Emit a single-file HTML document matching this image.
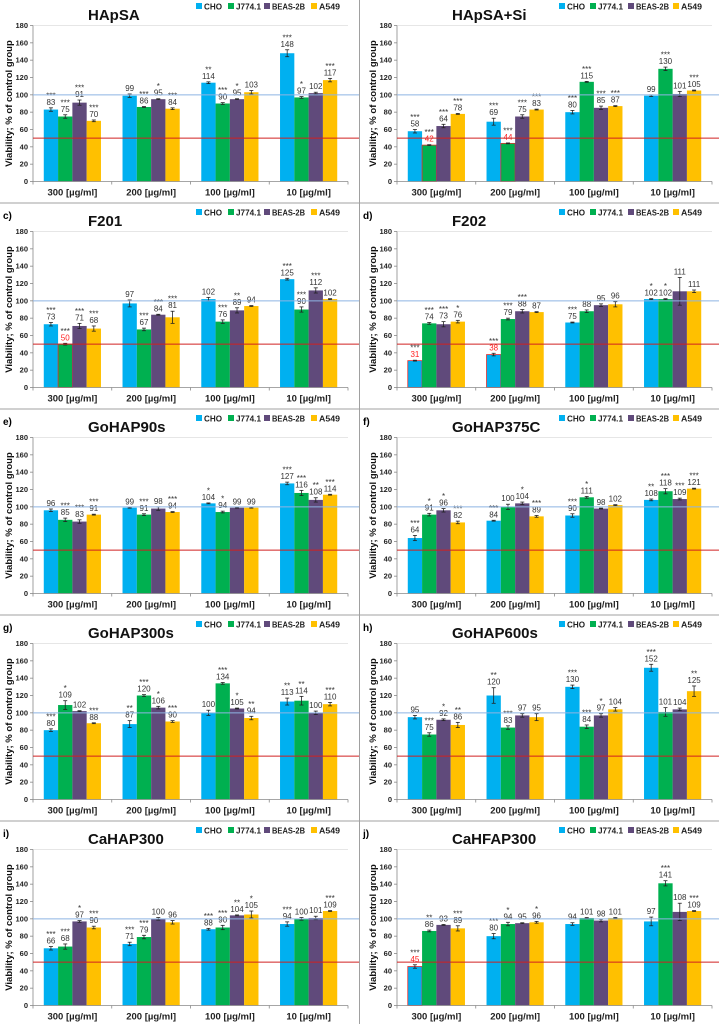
<!DOCTYPE html>
<html><head><meta charset="utf-8"><title>Viability charts</title>
<style>
html,body{margin:0;padding:0;background:#fff;}
svg{display:block;font-family:"Liberation Sans",Arial,sans-serif;}
</style></head>
<body>
<svg id="fig" width="719" height="1024" viewBox="0 0 719 1024" xmlns="http://www.w3.org/2000/svg"></svg>
<script>
const titles = ["HApSA","HApSA+Si","F201","F202","GoHAP90s","GoHAP375C","GoHAP300s","GoHAP600s","CaHAP300","CaHFAP300"];
const letters = ["a)","b)","c)","d)","e)","f)","g)","h)","i)","j)"];
const categories = ["300 [µg/ml]","200 [µg/ml]","100 [µg/ml]","10 [µg/ml]"];
const seriesNames = ["CHO","J774.1","BEAS-2B","A549"];
const yTicks = [0,20,40,60,80,100,120,140,160,180];

const choValues = [[83,99,114,148],[58,69,80,99],[73,97,102,125],[31,38,75,102],[96,99,104,127],[64,84,90,108],[80,87,100,113],[95,120,130,152],[66,71,88,94],[45,80,94,97]];
const j774Values = [[75,86,90,97],[42,44,115,130],[50,67,76,90],[74,79,88,102],[85,91,94,116],[91,100,111,118],[109,120,134,114],[75,83,84,101],[68,79,90,100],[86,94,101,141]];
const beasValues = [[91,95,95,102],[64,75,85,101],[71,84,89,112],[73,88,95,111],[83,98,99,108],[96,104,98,109],[102,106,105,100],[92,97,97,104],[97,100,104,101],[93,95,98,108]];
const a549Values = [[70,84,103,117],[78,83,87,105],[68,81,94,102],[76,87,96,111],[91,94,99,114],[82,89,102,121],[88,90,94,110],[86,95,104,125],[90,96,105,109],[89,96,101,109]];

const choErrors = [[2,2,1,4],[2,4,2,1],[2,4,2,1],[0.5,1.5,0.5,0.5],[1.5,0.5,0.5,1.5],[3,0.5,2,1],[1.5,4,3,4],[2,9,2,4],[2,2,1,2.5],[2,3,1.5,5]];
const j774Errors = [[2,0.5,1,1],[0.5,0.5,0.5,2],[1,1.5,2,3],[1,1,1.5,0.5],[2,1,1,3],[1.5,3,1,3],[5,1,1,5],[2,2,2,5],[3,2,2.5,1.5],[1,2,0.5,3]];
const beasErrors = [[3,0.5,0.5,1],[2,2,2,3],[3,0.5,3,3],[3,2,1.5,16],[2,2,0.5,2.5],[2,1.5,0.5,1],[0.5,1.5,0.5,2],[1,2,2,1.5],[1,1.5,0.5,2],[0.5,0.5,1.5,10]];
const a549Errors = [[1,1,2,2],[0.5,0.5,0.5,0.5],[3,7,0.5,0.5],[1.5,0.5,3,1.5],[0.5,0.5,0.5,0.5],[1.5,1,0.5,0.5],[0.5,1,2,2],[3,4,2,6],[1.5,2,4,0.5],[3,1,0.5,0.5]];

const choStars = [["***","","**","***"],["***","***","***",""],["***","","","***"],["***","***","***","*"],["","","*","***"],["***","***","***","**"],["***","**","","**"],["","**","***","***"],["***","***","***","***"],["***","***","",""]];
const j774Stars = [["***","***","***","*"],["***","***","***","***"],["***","***","***","***"],["***","***","","*"],["***","***","*","***"],["*","","*","***"],["*","***","***","**"],["***","***","***",""],["***","***","***",""],["**","*","","***"]];
const beasStars = [["***","*","*",""],["***","***","***",""],["***","***","**","***"],["***","***","",""],["***","","","**"],["*","*","","***"],["","*","*",""],["*","","*",""],["*","","**",""],["","","",""]];
const a549Stars = [["***","***","","***"],["***","***","***","***"],["***","***","",""],["*","","",""],["***","***","","***"],["***","***","","***"],["***","***","**","***"],["**","","","**"],["***","","*","***"],["***","*","","***"]];

const colors = ["#00b0f0","#00b050","#604a7b","#ffc000"];
const NS = "http://www.w3.org/2000/svg";
const svg = document.getElementById("fig");
function mk(tag, attrs, parent){const e=document.createElementNS(NS,tag);for(const k in attrs)e.setAttribute(k,attrs[k]);(parent||svg).appendChild(e);return e;}

const rowOffsets = [0,206,412,618,824];
const allValues = [choValues,j774Values,beasValues,a549Values];
const allErrors = [choErrors,j774Errors,beasErrors,a549Errors];
const allStars = [choStars,j774Stars,beasStars,a549Stars];
const legendTextWidths = [18,25,33,21];

for (let r=1;r<5;r++){
  const l=mk("line",{x1:0,x2:719,y1:rowOffsets[r]-3,y2:rowOffsets[r]-3,stroke:"#a0a0a0","stroke-width":1});
  
  
}
const vl=mk("line",{x1:359.5,x2:359.5,y1:0,y2:1024,stroke:"#a0a0a0","stroke-width":1});



for (let p=0;p<10;p++){
  const col=p%2, row=Math.floor(p/2);
  const ox = col===0?0:364, oy=rowOffsets[row];
  const g=mk("g",{});
  
  
  const x0=33+ox, x1=348+ox, yTop=25.5+oy, yBot=181.5+oy;
  const yScale = v => yBot - v*(yBot-yTop)/180;
  const catW=(x1-x0)/4;
  const xCat = i => x0 + catW*(i+0.5);
  const barW=14.3;

  if (row>0){
    const t=mk("text",{x:3+ (col?360:0),y:oy+13,"font-size":10,"font-weight":"bold",fill:"#000"},g);
    t.textContent=letters[p];
    
    
  }
  const tt=mk("text",{x:(col?452:88),y:oy+20,"font-size":15,"font-weight":"bold",fill:"#111"},g);
  tt.textContent=titles[p];
  
  
  const legX = col?[559,590,628,673]:[196,228,264,311];
  for (let s=0;s<4;s++){
    const lg=mk("g",{},g);
    
    
    mk("rect",{x:legX[s],y:oy+3,width:6,height:6,fill:colors[s]},lg);
    const lt=mk("text",{x:legX[s]+8,y:oy+9.5,"font-size":8.5,"font-weight":"bold",fill:"#222",textLength:legendTextWidths[s],lengthAdjust:"spacingAndGlyphs"},lg);
    lt.textContent=seriesNames[s];
  }
  const yt=mk("text",{x:0,y:0,"font-size":9.5,"font-weight":"bold",fill:"#111","text-anchor":"middle",transform:`translate(${ox+12+(col?0:0)},${(yTop+yBot)/2}) rotate(-90)`},g);
  yt.textContent="Viability; % of control group";
  
  
  mk("line",{x1:x0,x2:x1,y1:yTop,y2:yTop,stroke:"#e6e6e6","stroke-width":1},g);
  yTicks.forEach(v=>{
    const yl=mk("text",{x:x0-5,y:yScale(v)+2.5,"font-size":7.5,"font-weight":"bold",fill:"#222","text-anchor":"end"},g);
    yl.textContent=v;
    
    
    mk("line",{x1:x0-3,x2:x0,y1:yScale(v),y2:yScale(v),stroke:"#888","stroke-width":0.8},g);
  });
  mk("line",{x1:x0,x2:x0,y1:yTop,y2:yBot,stroke:"#888","stroke-width":0.8},g);
  for (let c=0;c<4;c++){
    for (let s=0;s<4;s++){
      const v=allValues[s][p][c], e=allErrors[s][p][c], st=allStars[s][p][c];
      const bx=xCat(c)-2*barW+s*barW;
      const b=mk("rect",{x:bx,y:yScale(v),width:barW,height:yBot-yScale(v),fill:colors[s]},g);
      if (v<51){ b.setAttribute('stroke','#e03030'); b.setAttribute('stroke-width','0.8'); }
      
      
      const cx=bx+barW/2;
      mk("line",{x1:cx,x2:cx,y1:yScale(v+e),y2:yScale(v-e),stroke:"#222","stroke-width":0.8},g);
      mk("line",{x1:cx-2,x2:cx+2,y1:yScale(v+e),y2:yScale(v+e),stroke:"#222","stroke-width":0.8},g);
      mk("line",{x1:cx-2,x2:cx+2,y1:yScale(v-e),y2:yScale(v-e),stroke:"#222","stroke-width":0.8},g);
      const ly=yScale(v+e)-3;
      const vt=mk("text",{x:cx,y:ly,"font-size":8,fill:(v<51?"#ff2020":"#333"),"text-anchor":"middle"},g);
      vt.textContent=v;
      
      
      if (st){
        const sl=mk("text",{x:cx,y:ly-6.5,"font-size":8,fill:"#333","text-anchor":"middle"},g);
        sl.textContent=st;
        
        
      }
    }
  }
  const l100=mk("line",{x1:x0,x2:col?719:359,y1:yScale(100),y2:yScale(100),stroke:"#8eb4e3","stroke-width":1},g);
  
  
  const l50=mk("line",{x1:x0,x2:col?719:359,y1:yScale(50),y2:yScale(50),stroke:"#d02020","stroke-width":1},g);
  
  
  mk("line",{x1:x0,x2:x1,y1:yBot,y2:yBot,stroke:"#888","stroke-width":0.8},g);
  for (let c=0;c<=4;c++) mk("line",{x1:x0+catW*c,x2:x0+catW*c,y1:yBot,y2:yBot+3,stroke:"#888","stroke-width":0.8},g);
  categories.forEach((cat,c)=>{
    const xl=mk("text",{x:xCat(c),y:yBot+14,"font-size":9.5,"font-weight":"bold",fill:"#222","text-anchor":"middle"},g);
    xl.textContent=cat;
    
    
  });
}
</script>
</body></html>
